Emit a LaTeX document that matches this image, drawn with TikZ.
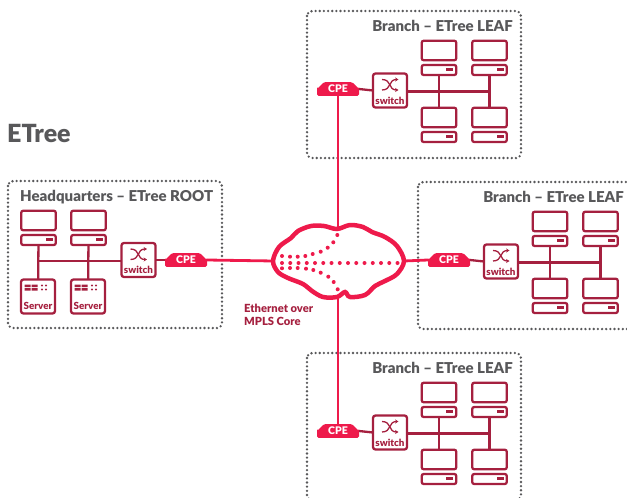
\documentclass[tikz,border=0pt]{standalone}
\usepackage{fontspec}
\setmainfont[BoldFont={Lato Black}]{Lato}
\usetikzlibrary{shapes.misc,arrows.meta}
\definecolor{netred}{HTML}{EE1A4B}
\definecolor{devred}{HTML}{A5203F}
\definecolor{titlegray}{HTML}{58585A}
\tikzset{
    sitebox/.style={draw=titlegray,line width=2.6pt,line cap=round,dash pattern=on 0pt off 4.15pt,rounded corners=5pt},
    sitetitle/.style={text=titlegray,font=\bfseries\fontsize{15}{15}\selectfont,inner sep=0pt},
    screenbox/.style={draw=devred,line width=2.3pt,rounded corners=2pt,minimum width=34.5pt,minimum height=19.5pt,inner sep=0pt,outer sep=0pt},
    basebox/.style={draw=devred,line width=2.3pt,rounded corners=2pt,minimum width=34.5pt,minimum height=10pt,inner sep=0pt,outer sep=0pt},
    bigbox/.style={draw=devred,line width=2.3pt,rounded corners=2.5pt,minimum width=34pt,minimum height=34pt,inner sep=0pt,outer sep=0pt},
    devlabel/.style={text=devred,font=\bfseries\fontsize{9.8}{9.8}\selectfont,inner sep=0pt},
    cpebox/.style={chamfered rectangle,chamfered rectangle corners={north west,north east},chamfered rectangle xsep=4pt,chamfered rectangle ysep=3pt,
        fill=netred,rounded corners=1.5pt,minimum width=42pt,minimum height=13pt,inner sep=0pt,outer sep=0pt,text=white,font=\bfseries\fontsize{10.5}{10.5}\selectfont},
    netline/.style={draw=netred,line width=2.8pt},
    devline/.style={draw=devred,line width=2.3pt},
    corenode/.style={circle,fill=netred,minimum size=4pt,inner sep=0pt},
}
% #1 name, #2 x, #3 y (centre of the screen)
\newcommand*{\pcunit}[3]{
    \node [screenbox] (#1s) at (#2,#3) {};
    \node [basebox] (#1b) at (#2,#3+19.5) {};
    \fill [devred] (#2+7,#3+17.5) rectangle (#2+14,#3+20.7);
}
% #1 name, #2 x, #3 y
\newcommand*{\switchunit}[3]{
    \node [bigbox] (#1) at (#2,#3) {};
    \node [devlabel] (#1l) at (#2,#3+10) {switch};
    \draw [devred,line width=1.3pt,-{Stealth[length=3.4pt,width=4pt]}] (#2-8,#3-11) .. controls (#2+2,#3-11) and (#2-2,#3-0.5) .. (#2+8.5,#3-0.5);
    \draw [devred,line width=1.3pt,-{Stealth[length=3.4pt,width=4pt]}] (#2-8,#3-0.5) .. controls (#2+2,#3-0.5) and (#2-2,#3-11) .. (#2+8.5,#3-11);
}
% #1 name, #2 x, #3 y
\newcommand*{\serverunit}[3]{
    \node [bigbox] (#1) at (#2,#3) {};
    \node [devlabel] (#1l) at (#2,#3+9) {Server};
    \fill [devred] (#2-13.5,#3-12) rectangle (#2-7.5,#3-9.5) (#2-6.5,#3-12) rectangle (#2-0.5,#3-9.5);
    \fill [devred] (#2-13.5,#3-8.5) rectangle (#2-7.5,#3-6) (#2-6.5,#3-8.5) rectangle (#2-0.5,#3-6);
    \foreach \i in {4,8} {
        \foreach \j in {-11,-7} {
            \fill [devred] (#2+\i,#3+\j) circle (1.1pt);
        }
    }
}
% #1 name, #2 x shift, #3 y shift
\newcommand*{\leafsite}[3]{
    \begin{scope}[shift={(#2,#3)}]
    \draw [sitebox] (307,11) rectangle (521,158);
    \node [sitetitle,anchor=east] (#1t) at (513,26) {Branch -- ETree LEAF};
    \pcunit{#1a}{439}{50.5}
    \pcunit{#1c}{489.5}{50.5}
    \pcunit{#1d}{439}{117.5}
    \pcunit{#1e}{489.5}{117.5}
    \coordinate (#1ja) at (439,91.5);
    \coordinate (#1jc) at (489.5,91.5);
    \draw [devline] (#1ab) -- (#1ds);
    \draw [devline] (#1cb) -- (#1es);
    \switchunit{#1sw}{390}{90.5}
    \node [cpebox] (#1cpe) at (338,89) {CPE};
    \draw [devline] (#1sw.east |- #1ja) -- (#1jc);
    \draw [devline] (#1cpe.east) -- (#1sw.west);
    \end{scope}
}

\begin{document}
\begin{tikzpicture}[x=1pt,y=-1pt]
    \useasboundingbox (0,0) rectangle (627,498);

    \node [text=titlegray,font=\bfseries\fontsize{25}{25}\selectfont,anchor=west,inner sep=0pt] (etree) at (7,133) {ETree};

    % headquarters
    \draw [sitebox] (8,181) rectangle (222,328);
    \node [sitetitle,anchor=west] (hqt) at (20,197) {Headquarters -- ETree ROOT};
    \pcunit{hqa}{38.5}{220.5}
    \pcunit{hqc}{88.5}{220.5}
    \serverunit{hqd}{38}{296.5}
    \serverunit{hqe}{88}{296.5}
    \switchunit{hqsw}{138.5}{260}
    \node [cpebox] (hqcpe) at (186,260) {CPE};
    \coordinate (hqjc) at (38.5,261);
    \draw [devline] (hqab) -- (hqd);
    \draw [devline] (hqcb) -- (hqe);
    \draw [devline] (hqjc) -- (hqsw.west |- hqjc);
    \draw [devline] (hqsw.east) -- (hqcpe.west);

    % the branches
    \leafsite{top}{0}{0}
    \leafsite{rgt}{111}{171}
    \leafsite{bot}{0}{342}

    % core
    \coordinate (cloudn) at (338,230);
    \coordinate (clouds) at (338,295);
    \coordinate (cloudw) at (274,261);
    \coordinate (cloude) at (404,261);
    \draw [netline] (topcpe.south) -- (cloudn);
    \draw [netline] (clouds) -- (botcpe.north);
    \draw [netline] (hqcpe.east) -- (cloudw);
    \draw [netline] (cloude) -- (rgtcpe.west);
    \draw [netred,line width=4.5pt,fill=white] plot [smooth cycle,tension=0.55] coordinates {
        (273,261) (279,247) (291,238) (298,231) (311,226) (324,226) (337,229) (350,225) (363,227)
        (372,232) (385,237) (397,246) (404,261) (397,274) (385,281) (375,286) (365,295) (350,297) (345,292)
        (337,297) (323,297) (312,291) (303,284) (288,278) (278,272)};
    \foreach \i in {0,...,14} {
        \node [corenode] (dm\i) at (282+8.25*\i,263) {};
    }
    \foreach \i/\j [count=\n] in {282/256,290/256.7,297.7/256.7,305.3/256,312.7/254,320.7/251.7,327.7/247.7,333.3/242.3,337.3/235} {
        \node [corenode] (du\n) at (\i,\j) {};
    }
    \foreach \i/\j [count=\n] in {282/268.3,290/268,297.7/268,306/268.7,313.3/270,320.7/272.7,328.3/276.7,333.7/282,337.7/289.3} {
        \node [corenode] (dl\n) at (\i,\j) {};
    }
    \node [text=devred,font=\bfseries\fontsize{11.2}{13}\selectfont,align=left,anchor=north west,inner sep=0pt] (corelabel) at (244,304) {Ethernet over\\MPLS Core};
\end{tikzpicture}
\end{document}
